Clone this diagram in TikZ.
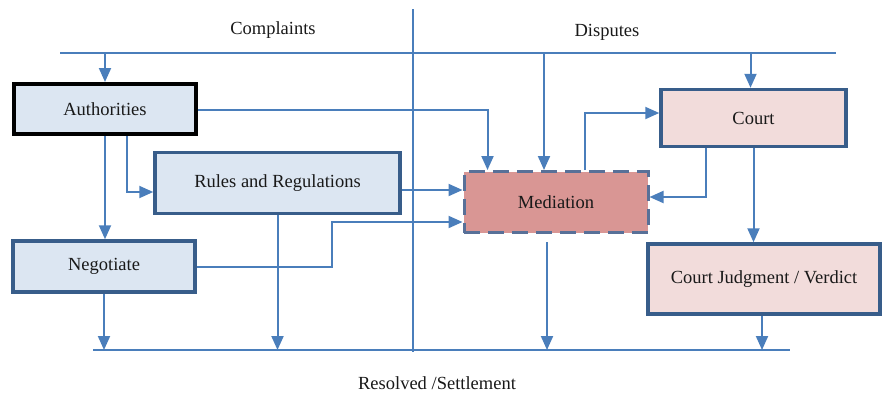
\documentclass[tikz,border=0pt]{standalone}
\usepackage{fontspec}
\setmainfont{Liberation Serif}
\usetikzlibrary{arrows.meta}

\definecolor{flowline}{RGB}{74,126,187}
\definecolor{boxedge}{RGB}{56,93,138}
\definecolor{bluefill}{RGB}{220,230,242}
\definecolor{pinkfill}{RGB}{242,220,219}
\definecolor{medfill}{RGB}{217,150,148}
\definecolor{mededge}{RGB}{88,112,152}
\definecolor{ink}{RGB}{25,25,25}

\tikzset{
  every node/.style={font=\fontsize{18.5}{22}\selectfont, text=ink},
  box/.style={draw, rectangle, inner sep=0pt, line width=3.5pt},
  bluebox/.style={box, draw=boxedge, fill=bluefill},
  blackbox/.style={box, draw=black, line width=4pt, fill=bluefill},
  pinkbox/.style={box, draw=boxedge, fill=pinkfill},
  medbox/.style={box, draw=mededge, fill=medfill, line width=3pt,
                 dash pattern=on 16pt off 8pt},
  flow/.style={draw=flowline, line width=2pt,
               -{Triangle[length=14pt,width=12pt]}},
  rail/.style={draw=flowline, line width=1.5pt},
  label/.style={inner sep=0pt}
}

\begin{document}
\begin{tikzpicture}[x=1pt,y=-1pt]
\useasboundingbox (0,0) rectangle (882,394);

% rails: complaints/disputes on top, settlement at the bottom, divider
\coordinate (tl) at (60,53);
\coordinate (tr) at (836,53);
\coordinate (bl) at (93,350);
\coordinate (br) at (790,350);
\coordinate (vt) at (413,9);
\coordinate (vb) at (413,352);
\draw[rail] (tl) -- (tr);
\draw[rail] (bl) -- (br);
\draw[rail] (vt) -- (vb);

% headings
\node[label] (complaints) at (273,30) {Complaints};
\node[label] (disputes) at (607,32) {Disputes};
\node[label] (resolved) at (437,383) {Resolved /Settlement};

% boxes
\node[blackbox, minimum width=182pt, minimum height=50pt] (auth) at (105,109) {Authorities};
\node[bluebox, minimum width=245pt, minimum height=61pt] (rules) at (277.5,183) {Rules and Regulations};
\node[bluebox, minimum width=182pt, minimum height=51pt] (neg) at (104,266.5) {Negotiate};
\node[medbox, minimum width=184pt, minimum height=61pt] (med) at (556,202) {Mediation};
\node[pinkbox, minimum width=185pt, minimum height=57pt] (court) at (753.5,118) {Court};
\node[pinkbox, minimum width=232pt, minimum height=70pt] (cj) at (764,279) {Court Judgment / Verdict};

% bends
\coordinate (nbend) at (332,222);

% connectors from the top rail
\draw[flow] (auth.north |- tl) -- (auth.north);
\draw[flow] ([xshift=-12pt]med.north |- tl) -- ([xshift=-12pt]med.north);
\draw[flow] ([xshift=-3pt]court.north |- tl) -- ([xshift=-3pt]court.north);

% connectors between boxes
\draw[flow] ([yshift=-1pt]auth.east) -| ([xshift=25pt]med.north west);
\draw[flow] (auth.south) -- (auth.south |- neg.north);
\draw[flow] ([xshift=22pt]auth.south) |- ([yshift=-9pt]rules.west);
\draw[flow] ([yshift=-7pt]rules.east) -- ([yshift=-7pt]rules.east -| med.west);
\draw[flow] (neg.east) -| (nbend) -- (nbend -| med.west);
\draw[flow] ([xshift=29pt]med.north) |- ([yshift=5pt]court.west);
\draw[flow] ([xshift=-48pt]court.south) |- ([yshift=5pt]med.east);
\draw[flow] (court.south) -- (court.south |- cj.north);

% connectors to the settlement rail
\draw[flow] (neg.south) -- (neg.south |- bl);
\draw[flow] (rules.south) -- (rules.south |- bl);
\draw[flow, shorten <=8pt] ([xshift=-9pt]med.south) -- ([xshift=-9pt]med.south |- bl);
\draw[flow] ([xshift=-2pt]cj.south) -- ([xshift=-2pt]cj.south |- bl);
\end{tikzpicture}
\end{document}
